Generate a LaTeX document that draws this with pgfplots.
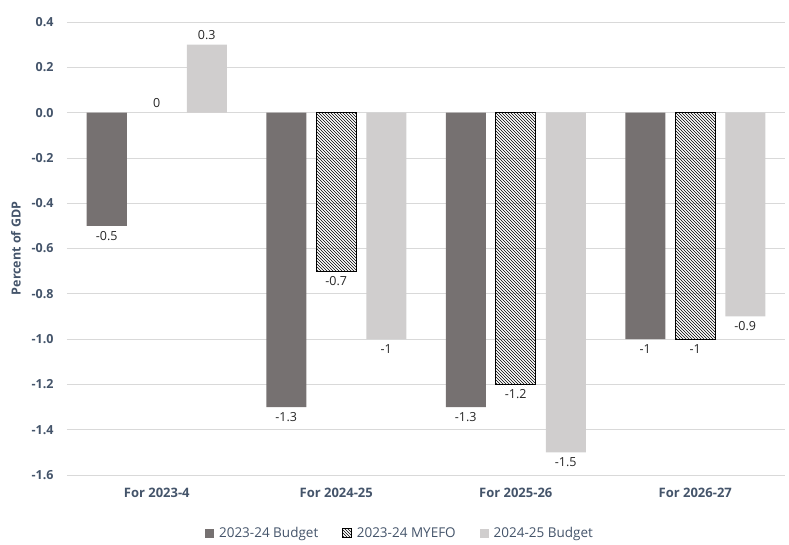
\documentclass[border=0pt]{standalone}
\usepackage{fontspec}
\setmainfont{Open Sans}
\usepackage{pgfplots}
\pgfplotsset{compat=1.18}
\usetikzlibrary{patterns}

\definecolor{darkbar}{HTML}{767171}
\definecolor{lightbar}{HTML}{D0CECE}
\definecolor{axistext}{HTML}{44546A}
\definecolor{labeltext}{HTML}{262626}
\definecolor{gridgray}{HTML}{D9D9D9}

\begin{document}
\begin{tikzpicture}
\begin{axis}[
  scale only axis,
  width=718pt, height=453pt,
  xmin=-0.5, xmax=3.5,
  ymin=-1.6, ymax=0.4,
  ytick={-1.6,-1.4,...,0.41},
  xtick={0,1,2,3},
  xticklabels={For 2023-4, For 2024-25, For 2025-26, For 2026-27},
  major tick length=0pt,
  axis line style={draw=none},
  ymajorgrids,
  grid style={gridgray, line width=0.8pt},
  /pgf/number format/assume math mode=true,
  yticklabel={\pgfmathprintnumber[fixed,precision=1,fixed zerofill]{\tick}},
  yticklabel style={font=\fontsize{12.5}{14}\selectfont\bfseries, text=axistext, xshift=-10pt},
  xticklabel style={font=\fontsize{13}{15}\selectfont\bfseries, text=axistext, yshift=-10pt},
  every axis y label/.style={at={(rel axis cs:0,0.5)}, xshift=-51pt, rotate=90, anchor=center,
    font=\fontsize{12.5}{14}\selectfont\bfseries, text=axistext},
  ylabel={Percent of GDP},
  ybar, bar width=40pt,
  nodes near coords={\pgfmathprintnumber[assume math mode=true,fixed,precision=1]{\pgfplotspointmeta}},
  every node near coord/.append style={font=\fontsize{12.5}{14}\selectfont, text=labeltext, inner sep=5pt},
  legend style={at={(rel axis cs:0.5,0)}, xshift=-26pt, yshift=-58pt, anchor=center, draw=none, fill=none,
    legend columns=3, font=\fontsize{13.5}{15}\selectfont, text=axistext,
    /tikz/every even column/.append style={column sep=22pt},
    legend cell align=left},
]
% 2023-24 Budget
\addplot[bar shift=-50pt, fill=darkbar, draw=none,
  legend image code/.code={\fill[darkbar] (0pt,-4.5pt) rectangle (9pt,4.5pt); \path (12pt,0pt);}]
  coordinates {(0,-0.5) (1,-1.3) (2,-1.3) (3,-1)};
\addlegendentry{2023-24 Budget}
% 2023-24 MYEFO
\addplot[bar shift=0pt, pattern=north west lines, pattern color=black, draw=black, line width=0.6pt,
  legend image code/.code={\draw[pattern=north west lines, pattern color=black, line width=0.5pt]
    (0pt,-4.5pt) rectangle (9pt,4.5pt); \path (12pt,0pt);}]
  coordinates {(1,-0.7) (2,-1.2) (3,-1)};
\addlegendentry{2023-24 MYEFO}
% 2024-25 Budget
\addplot[bar shift=50pt, fill=lightbar, draw=none,
  legend image code/.code={\fill[lightbar] (0pt,-4.5pt) rectangle (9pt,4.5pt); \path (12pt,0pt);}]
  coordinates {(0,0.3) (1,-1) (2,-1.5) (3,-0.9)};
\addlegendentry{2024-25 Budget}
% MYEFO estimate for 2023-4 is zero: label only
\addplot[forget plot, bar shift=0pt, draw=none, fill=none]
  coordinates {(0,0)};
\end{axis}
\path (-67pt,-69pt) rectangle (722pt,475pt);
\end{tikzpicture}
\end{document}
